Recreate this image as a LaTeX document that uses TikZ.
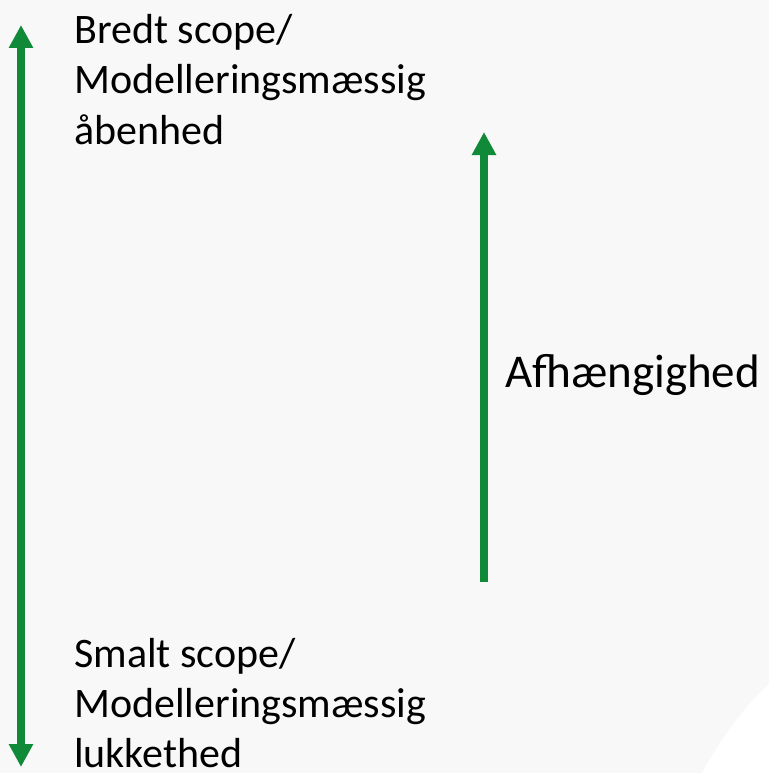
\documentclass[tikz,border=0pt]{standalone}
\usepackage{fontspec}
\setmainfont{Carlito}
\usetikzlibrary{arrows.meta}
\definecolor{bg}{HTML}{F8F8F8}
\definecolor{arrowgreen}{RGB}{16,138,56}
\tikzset{
  txt/.style={anchor=base west, inner sep=0pt, font=\fontsize{42}{50}\selectfont, text=black},
  bigtxt/.style={anchor=base west, inner sep=0pt, font=\fontsize{47}{56}\selectfont, text=black},
  bigarrow/.style={draw=arrowgreen, line width=8pt, -{Triangle[width=23pt,length=23pt]}},
  bigarrowboth/.style={draw=arrowgreen, line width=8pt, {Triangle[width=23pt,length=23pt]}-{Triangle[width=23pt,length=23pt]}}
}
\begin{document}
\begin{tikzpicture}[x=1pt,y=-1pt]
\useasboundingbox (0,0) rectangle (769,773);
\fill[bg] (0,0) rectangle (769,773);
\fill[white] (769,684) .. controls (745,705) and (718,743) .. (702,773) -- (769,773) -- cycle;
% left arrow
\coordinate (lt) at (21,25);
\coordinate (lb) at (21,767);
\draw[bigarrowboth] (lb) -- (lt);
% middle arrow
\coordinate (ms) at (484,582);
\coordinate (mt) at (484,132);
\draw[bigarrow] (ms) -- (mt);
% texts
\node[txt] (t1) at (74,44) {Bredt scope/};
\node[txt] (t2) at (74,94) {Modelleringsmæssig};
\node[txt] (t3) at (74,144) {åbenhed};
\node[txt] (b1) at (74,667) {Smalt scope/};
\node[txt] (b2) at (74,717) {Modelleringsmæssig};
\node[txt] (b3) at (74,767) {lukkethed};
\node[bigtxt] (af) at (505,387) {Afhængighed};
\end{tikzpicture}
\end{document}
